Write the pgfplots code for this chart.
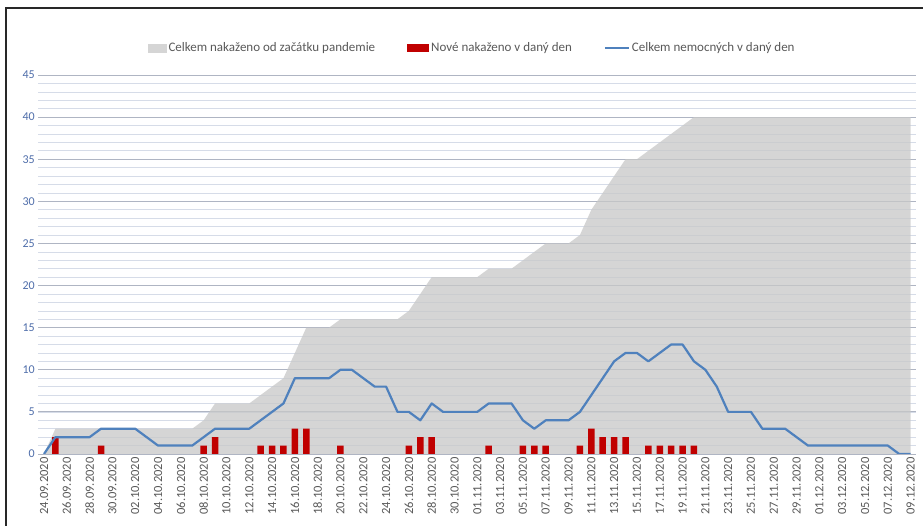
\documentclass[border=0pt]{standalone}
\usepackage{pgfplots}
\usepackage{pgfplotstable}
\pgfplotsset{compat=1.18}
\usepackage{fontspec}
\setmainfont{Carlito}
\definecolor{areac}{RGB}{200,200,200}
\definecolor{barc}{RGB}{192,0,0}
\definecolor{linec}{RGB}{79,129,189}
\definecolor{minorg}{RGB}{214,220,232}
\definecolor{majorg}{RGB}{175,181,195}
\definecolor{tenth}{RGB}{140,146,158}
\definecolor{ytc}{RGB}{79,110,170}
\definecolor{xtc}{RGB}{89,89,89}
\definecolor{framec}{RGB}{40,40,40}

\pgfplotstableread{
x y
0 0
1 3
2 3
3 3
4 3
5 3
6 3
7 3
8 3
9 3
10 3
11 3
12 3
13 3
14 4
15 6
16 6
17 6
18 6
19 7
20 8
21 9
22 12
23 15
24 15
25 15
26 16
27 16
28 16
29 16
30 16
31 16
32 17
33 19
34 21
35 21
36 21
37 21
38 21
39 22
40 22
41 22
42 23
43 24
44 25
45 25
46 25
47 26
48 29
49 31
50 33
51 35
52 35
53 36
54 37
55 38
56 39
57 40
58 40
59 40
60 40
61 40
62 40
63 40
64 40
65 40
66 40
67 40
68 40
69 40
70 40
71 40
72 40
73 40
74 40
75 40
76 40
}\cumtable

\pgfplotstableread{
x y
1 2
5 1
14 1
15 2
19 1
20 1
21 1
22 3
23 3
26 1
32 1
33 2
34 2
39 1
42 1
43 1
44 1
47 1
48 3
49 2
50 2
51 2
53 1
54 1
55 1
56 1
57 1
}\newtable

\pgfplotstableread{
x y
0 0
1 2
2 2
3 2
4 2
5 3
6 3
7 3
8 3
9 2
10 1
11 1
12 1
13 1
14 2
15 3
16 3
17 3
18 3
19 4
20 5
21 6
22 9
23 9
24 9
25 9
26 10
27 10
28 9
29 8
30 8
31 5
32 5
33 4
34 6
35 5
36 5
37 5
38 5
39 6
40 6
41 6
42 4
43 3
44 4
45 4
46 4
47 5
48 7
49 9
50 11
51 12
52 12
53 11
54 12
55 13
56 13
57 11
58 10
59 8
60 5
61 5
62 5
63 3
64 3
65 3
66 2
67 1
68 1
69 1
70 1
71 1
72 1
73 1
74 1
75 0
76 0
}\sicktable

\begin{document}
\begin{tikzpicture}
\useasboundingbox (0,0) rectangle (923pt,526pt);
\fill[white] (0,0) rectangle (923pt,526pt);
\begin{axis}[
  at={(38.3pt,72pt)}, anchor=south west,
  scale only axis, width=878pt, height=379pt,
  xmin=-0.5, xmax=76.5, ymin=0, ymax=45,
  ytick={0,5,...,45},
  minor ytick={0,1,...,45},
  xtick={0,2,...,76},
  xticklabels={24.09.2020,26.09.2020,28.09.2020,30.09.2020,02.10.2020,04.10.2020,06.10.2020,08.10.2020,10.10.2020,12.10.2020,14.10.2020,16.10.2020,18.10.2020,20.10.2020,22.10.2020,24.10.2020,26.10.2020,28.10.2020,30.10.2020,01.11.2020,03.11.2020,05.11.2020,07.11.2020,09.11.2020,11.11.2020,13.11.2020,15.11.2020,17.11.2020,19.11.2020,21.11.2020,23.11.2020,25.11.2020,27.11.2020,29.11.2020,01.12.2020,03.12.2020,05.12.2020,07.12.2020,09.12.2020},
  extra y ticks={10,20,30,40},
  extra y tick labels={},
  extra y tick style={grid style={tenth, line width=1pt}},
  ymajorgrids, yminorgrids,
  major grid style={majorg, line width=0.8pt},
  minor grid style={minorg, line width=0.6pt},
  axis line style={draw=none},
  tick style={draw=none},
  /pgf/number format/assume math mode=true,
  yticklabel style={font=\fontsize{12}{12}\selectfont, text=ytc},
  xticklabel style={rotate=90, anchor=east, font=\fontsize{12.5}{13}\selectfont, text=xtc},
  legend columns=3,
  legend style={at={(0.494,1.071)}, anchor=center, draw=none, fill=none,
    font=\fontsize{13}{13}\selectfont, text=xtc,
    /tikz/every even column/.append style={column sep=30pt}},
  legend cell align=left,
]
\addplot[draw=none, fill=areac, fill opacity=0.75,
  legend image code/.code={\fill[areac] (0pt,-4.5pt) rectangle (19pt,4.5pt);}]
  table[x=x,y=y]{\cumtable} \closedcycle;
\addlegendentry{Celkem nakaženo od začátku pandemie}
\addplot[ybar, bar width=6.5pt, bar shift=0pt, draw=none, fill=barc,
  legend image code/.code={\fill[barc] (0pt,-4pt) rectangle (22pt,4pt);}]
  table[x=x,y=y]{\newtable};
\addlegendentry{Nové nakaženo v daný den}
\addplot[linec, line width=2.2pt, mark=none, line join=round,
  legend image code/.code={\draw[linec, line width=2pt] (0pt,0pt) -- (24pt,0pt);}]
  table[x=x,y=y]{\sicktable};
\addlegendentry{Celkem nemocných v daný den}
\end{axis}
\draw[line width=2pt, framec] (6pt,0pt) -- (6pt,518pt) -- (923pt,518pt);
\end{tikzpicture}
\end{document}
